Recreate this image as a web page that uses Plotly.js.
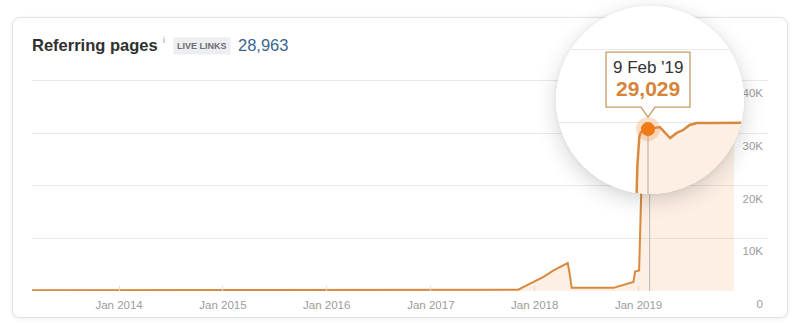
<!DOCTYPE html>
<html><head><meta charset="utf-8">
<script src="https://cdn.plot.ly/plotly-3.0.1.min.js"></script>
<style>
html,body{margin:0;padding:0;background:#fff;width:800px;height:329px;overflow:hidden;}
#card{position:absolute;left:12px;top:17px;width:774px;height:299px;border:1px solid #e3e3e3;border-radius:8px;box-shadow:0 1px 4px rgba(0,0,0,0.07);background:#fff;}
#main{position:absolute;left:0;top:0;width:800px;height:329px;}
#lens{position:absolute;left:556px;top:6px;width:188px;height:188px;border-radius:50%;overflow:hidden;background:#fff;box-shadow:0 6px 22px rgba(0,0,0,0.17),0 0 5px rgba(0,0,0,0.05);}
#lensPlot{width:188px;height:188px;}
</style></head><body>
<div id="card"></div><div id="main"></div><div id="lens"><div id="lensPlot"></div></div>
<script>
// ---- data ----
const dates = ['2013-03-01','2013-09-01','2014-06-01','2015-06-01','2016-06-01','2017-06-01','2017-11-04','2017-11-23','2017-12-28','2018-02-01','2018-03-08','2018-04-09','2018-04-27','2018-05-04','2018-05-11','2018-10-05','2018-12-14','2018-12-20','2019-01-03','2019-01-13','2019-01-18','2019-01-22','2019-02-09','2019-03-11','2019-03-29','2019-04-06','2019-04-23','2019-05-09','2019-05-26','2019-06-13','2019-07-16','2019-08-20','2019-09-22','2019-11-01','2019-12-03'];
const pages = [120,130,140,150,160,180,250,800,1800,2700,3900,4900,5300,3200,600,600,1700,3700,3900,24000,28000,28600,29029,29300,28200,27800,28500,28900,29600,29850,29870,29900,29880,29900,29900];
const tickDates = ['2014-01-01','2015-01-01','2016-01-01','2017-01-01','2018-01-01','2019-01-01'];
const tickLabels = ['Jan 2014','Jan 2015','Jan 2016','Jan 2017','Jan 2018','Jan 2019'];
const yTicks = [0,10000,20000,30000,40000];
const yTickLabels = ['0','10K','20K','30K','40K'];
const hoverDate = '2019-02-09';
const hoverValue = 29029;
const hoverLabel = "9 Feb '19";
const titleText = 'Referring pages';
const badgeText = 'LIVE LINKS';
const liveLinks = 28963;

// ---- styling / geometry ----
const FONT = 'Liberation Sans, Arial, sans-serif';
const LINE = '#d9893d';
const FILL = 'rgba(244,143,66,0.14)';
const GRID = '#e9e9e9';
const TICKC = '#9b9b9b';
const fmt = v => v.toLocaleString('en-US');

const PL = 32, PR = 768, PT = 54, PB = 291;
const px2x = p => (p - PL) / (PR - PL);
const py2y = p => (PB - p) / (PB - PT);

const mainTraces = [{
  x: dates, y: pages, type: 'scatter', mode: 'lines',
  line: {color: LINE, width: 2}, fill: 'tozeroy', fillcolor: FILL, hoverinfo: 'skip'
}];
const mainLayout = {
  width: 800, height: 329,
  margin: {l: PL, r: 800 - PR, t: PT, b: 329 - PB, pad: 0},
  paper_bgcolor: 'rgba(0,0,0,0)', plot_bgcolor: 'rgba(0,0,0,0)',
  font: {family: FONT, color: '#333'},
  showlegend: false,
  xaxis: {type: 'date', range: ['2013-03-01', '2020-03-31'], tickvals: tickDates, ticktext: tickLabels,
    ticks: 'inside', ticklen: 5, tickcolor: '#dadada', showgrid: false, zeroline: false, showline: false,
    ticklabelstandoff: 5,
    tickfont: {size: 11.5, color: TICKC, family: FONT}, fixedrange: true},
  yaxis: {side: 'right', range: [0, 45000], tickvals: yTicks, ticktext: yTickLabels,
    ticklabelposition: 'inside', ticklabeloverflow: 'allow', ticklabelshift: 13, ticklabelstandoff: 2,
    showgrid: true, gridcolor: GRID, gridwidth: 1, zeroline: false, showline: false, ticks: '',
    tickfont: {size: 11.5, color: TICKC, family: FONT}, fixedrange: true},
  shapes: [{type: 'line', xref: 'x', yref: 'y', x0: hoverDate, x1: hoverDate, y0: 0, y1: hoverValue,
    line: {color: '#b9b9b9', width: 1}}],
  annotations: [
    {xref: 'paper', yref: 'paper', x: px2x(30), y: py2y(45), xanchor: 'left', yanchor: 'middle', showarrow: false,
     text: '<b>' + titleText + '</b>', font: {size: 16.5, color: '#2f2f2f', family: FONT}},
    {xref: 'paper', yref: 'paper', x: px2x(161), y: py2y(40), xanchor: 'left', yanchor: 'middle', showarrow: false,
     text: 'i', font: {size: 9, color: '#999', family: FONT}},
    {xref: 'paper', yref: 'paper', x: px2x(202), y: py2y(46), xanchor: 'center', yanchor: 'middle', showarrow: false,
     text: '<b>' + badgeText + '</b>', font: {size: 9, color: '#6e6e6e', family: FONT},
     bgcolor: '#eceef2', borderpad: 3},
    {xref: 'paper', yref: 'paper', x: px2x(236), y: py2y(45), xanchor: 'left', yanchor: 'middle', showarrow: false,
     text: fmt(liveLinks), font: {size: 16.5, color: '#3a668c', family: FONT}}
  ]
};
Plotly.newPlot('main', mainTraces, mainLayout, {staticPlot: true, displayModeBar: false});

// ---- magnifier lens ----
const LENS_L = 556, LENS_T = 6, LENS_S = 188;
const DOT_PX = 648, PX_PER_YEAR = 144, GRID30_PY = 122, PX_PER_K = 7.3;
const YEAR_MS = 365.25 * 86400000;
const hMs = new Date(hoverDate + 'T00:00:00Z').getTime();
const xAt = p => new Date(hMs + (p - DOT_PX) / PX_PER_YEAR * YEAR_MS).toISOString().slice(0, 19).replace('T', ' ');
const vAt = p => 30000 + (GRID30_PY - p) / PX_PER_K * 1000;

const lensTraces = [
  {x: dates, y: pages, type: 'scatter', mode: 'lines', line: {color: LINE, width: 2.5},
   fill: 'tozeroy', fillcolor: FILL, hoverinfo: 'skip'},
  {x: [hoverDate], y: [hoverValue], type: 'scatter', mode: 'markers',
   marker: {size: 24, color: 'rgba(242,140,60,0.28)', line: {width: 0}}, hoverinfo: 'skip'},
  {x: [hoverDate], y: [hoverValue], type: 'scatter', mode: 'markers',
   marker: {size: 14, color: '#f07a14', line: {width: 0}}, hoverinfo: 'skip'}
];
const lensLayout = {
  width: LENS_S, height: LENS_S, margin: {l: 0, r: 0, t: 0, b: 0, pad: 0},
  paper_bgcolor: '#fff', plot_bgcolor: '#fff', showlegend: false,
  font: {family: FONT},
  xaxis: {type: 'date', range: [xAt(LENS_L), xAt(LENS_L + LENS_S)], showgrid: false, zeroline: false,
    showline: false, showticklabels: false, ticks: '', fixedrange: true},
  yaxis: {range: [vAt(LENS_T + LENS_S), vAt(LENS_T)], tickvals: yTicks, showgrid: true, gridcolor: GRID,
    zeroline: false, showline: false, showticklabels: false, ticks: '', fixedrange: true},
  shapes: [
    {type: 'line', xref: 'x', yref: 'y', x0: hoverDate, x1: hoverDate, y0: 0, y1: hoverValue,
     line: {color: '#b9b9b9', width: 1.2}, layer: 'below'},
    {type: 'path', xref: 'x', yref: 'y', xsizemode: 'pixel', ysizemode: 'pixel',
     xanchor: hoverDate, yanchor: hoverValue,
     path: 'M -42,22 L -7,22 L 0,12 L 7,22 L 42,22 L 42,77 L -42,77 Z',
     fillcolor: '#fff', line: {color: '#c89a66', width: 1.3}}
  ],
  annotations: [
    {x: hoverDate, y: hoverValue, xref: 'x', yref: 'y', yshift: 62, showarrow: false,
     xanchor: 'center', yanchor: 'middle', text: hoverLabel, font: {size: 17, color: '#333', family: FONT}},
    {x: hoverDate, y: hoverValue, xref: 'x', yref: 'y', yshift: 41, showarrow: false,
     xanchor: 'center', yanchor: 'middle', text: '<b>' + fmt(hoverValue) + '</b>',
     font: {size: 21, color: '#d6843a', family: FONT}}
  ]
};
Plotly.newPlot('lensPlot', lensTraces, lensLayout, {staticPlot: true, displayModeBar: false});
</script></body></html>
